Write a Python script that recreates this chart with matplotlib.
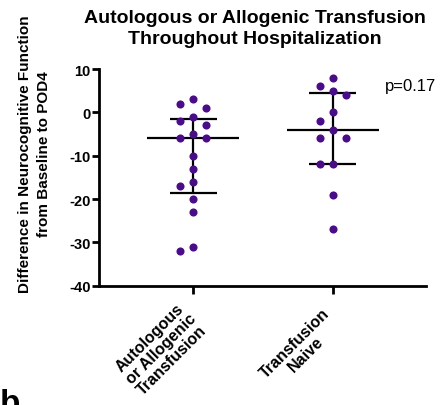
import numpy as np
import matplotlib
matplotlib.use("Agg")
import matplotlib.pyplot as plt

plt.rcParams['font.family'] = ['Liberation Sans', 'DejaVu Sans']

categories = ["Autologous\nor Allogenic\nTransfusion", "Transfusion\nNaive"]
transfused = [3, 2, 1, -1, -2, -3, -5, -6, -6, -10, -13, -16, -17, -20, -23, -31, -32]
naive = [8, 6, 5, 4, 0, -2, -4, -6, -6, -12, -12, -19, -27]
groups = [transfused, naive]
yticks = [10, 0, -10, -20, -30, -40]
p_text = "p=0.17"
title = "Autologous or Allogenic Transfusion\nThroughout Hospitalization"
ylabel = "Difference in Neurocognitive Function\nfrom Baseline to POD4"

dot_color = "#4B0C8C"

fig = plt.figure(figsize=(4.43, 4.06), dpi=100)
ax = fig.add_axes([0.2235, 0.2938, 0.738, 0.5337])
ax.set_xlim(-0.676, 1.669)
ax.set_ylim(-40, 10)

# pixel scale of the axes, used to lay out the swarm
px_x = 139.4      # px per category unit
px_y = 4.33       # px per y unit
dot_d = 12.5      # px, minimal centre distance


def swarm(vals):
    order = np.argsort(vals)[::-1]
    placed = []
    offs = np.zeros(len(vals))
    cands = [0]
    for k in range(1, 8):
        cands += [-k * 6.5, k * 6.5]
    for i in order:
        y = vals[i] * px_y
        for c in cands:
            ok = True
            for (px, py) in placed:
                if (px - c) ** 2 + (py - y) ** 2 < dot_d ** 2:
                    ok = False
                    break
            if ok:
                offs[i] = c
                placed.append((c, y))
                break
    return offs / px_x


for i, vals in enumerate(groups):
    vals = np.array(vals, dtype=float)
    xs = i + swarm(vals)
    ax.scatter(xs, vals, s=34, color=dot_color, zorder=3, linewidths=0)
    med = np.median(vals)
    q1, q3 = np.percentile(vals, [25, 75], method='weibull')
    ax.hlines(med, i - 0.33, i + 0.33, color='black', lw=1.6, zorder=2)
    ax.hlines([q1, q3], i - 0.17, i + 0.17, color='black', lw=1.6, zorder=2)
    ax.vlines(i, q1, q3, color='black', lw=1.6, zorder=2)

ax.text(1.375, 6.2, p_text, fontsize=12, va='center', ha='left')

for s in ['top', 'right']:
    ax.spines[s].set_visible(False)
for s in ['left', 'bottom']:
    ax.spines[s].set_linewidth(2)

ax.set_yticks(yticks)
ax.set_yticklabels([str(t) for t in yticks], fontsize=10.5, fontweight='bold')
ax.tick_params(axis='y', length=5, width=2, pad=1)
ax.set_xticks([0, 1])
ax.set_xticklabels([])
ax.tick_params(axis='x', length=6, width=2)
xt = ax.get_xaxis_transform()
for i, lab in enumerate(categories):
    ax.text(i, -0.14, lab, transform=xt, fontsize=11.5, fontweight='bold',
            rotation=45, ha='right', va='center', rotation_mode='anchor',
            multialignment='center', linespacing=1.1)

fig.text(0.575, 0.975, title, fontsize=14, fontweight='bold', ha='center',
         va='top', linespacing=1.3)
fig.text(0.078, 0.62, ylabel, fontsize=11, fontweight='bold', rotation=90,
         ha='center', va='center', multialignment='center', linespacing=1.4)
fig.text(0.0, -0.035, "b", fontsize=24, fontweight='bold', ha='left', va='bottom')

fig.savefig("out.png", dpi=100)
